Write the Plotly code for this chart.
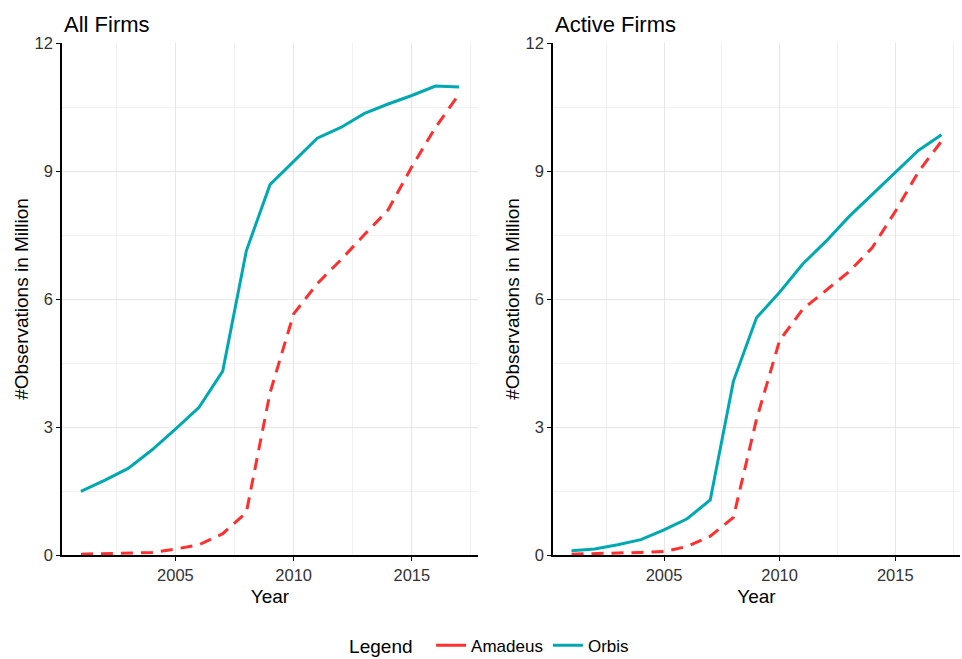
import plotly.graph_objects as go
from plotly.subplots import make_subplots

years = list(range(2001, 2018))
all_orbis = [1.49, 1.75, 2.03, 2.46, 2.95, 3.46, 4.31, 7.13, 8.68, 9.22, 9.77, 10.02, 10.35, 10.57, 10.77, 10.99, 10.97]
all_amadeus = [0.02, 0.03, 0.04, 0.06, 0.14, 0.24, 0.50, 1.00, 3.80, 5.65, 6.36, 6.92, 7.51, 8.09, 9.10, 10.02, 10.80]
act_orbis = [0.10, 0.14, 0.24, 0.36, 0.59, 0.85, 1.29, 4.07, 5.56, 6.16, 6.82, 7.35, 7.93, 8.45, 8.96, 9.48, 9.85]
act_amadeus = [0.02, 0.03, 0.04, 0.06, 0.08, 0.20, 0.44, 0.88, 3.18, 5.03, 5.76, 6.20, 6.64, 7.20, 8.05, 8.98, 9.70]
panel_titles = ["All Firms", "Active Firms"]

RED = "#FF2F2F"
TEAL = "#00A9B2"
FONT = "Liberation Sans, Arial, sans-serif"

fig = make_subplots(rows=1, cols=2, horizontal_spacing=0.08)

for col, (amad, orb) in enumerate([(all_amadeus, all_orbis), (act_amadeus, act_orbis)], start=1):
    fig.add_trace(go.Scatter(x=years, y=amad, mode="lines", name="Amadeus",
                             line=dict(color=RED, width=3, dash="12px,8px"),
                             legendgroup="a", showlegend=False), row=1, col=col)
    fig.add_trace(go.Scatter(x=years, y=orb, mode="lines", name="Orbis",
                             line=dict(color=TEAL, width=3),
                             legendgroup="o", showlegend=False), row=1, col=col)

# legend keys (solid, as in the reference legend)
fig.add_trace(go.Scatter(x=[None], y=[None], mode="lines", name="Amadeus",
                         line=dict(color=RED, width=3), legendgroup="a"), row=1, col=1)
fig.add_trace(go.Scatter(x=[None], y=[None], mode="lines", name="Orbis",
                         line=dict(color=TEAL, width=3), legendgroup="o"), row=1, col=1)

W, H = 962, 659
ml, mr, mt, mb = 62, 2, 43, 104
pw = W - ml - mr
d1 = [0, (478 - ml) / pw]
d2 = [(553 - ml) / pw, 1.0]

axis_common = dict(showline=True, linecolor="black", linewidth=1.5, ticks="outside",
                   ticklen=4, tickcolor="black", gridcolor="#E6E6E6", gridwidth=1.3,
                   zeroline=False, automargin=False,
                   tickfont=dict(size=16.5, color="#333333", family=FONT),
                   title_font=dict(size=19, color="black", family=FONT))

for i, dom in enumerate([d1, d2], start=1):
    fig.update_xaxes(domain=dom, range=[2000.2, 2017.8], tick0=2005, dtick=5,
                     minor=dict(dtick=2.5, tick0=2002.5, showgrid=True, gridcolor="#F0F0F0", gridwidth=1),
                     title_text="Year", title_standoff=7, **axis_common, row=1, col=i)
    fig.update_yaxes(range=[0, 12], tick0=0, dtick=3,
                     minor=dict(dtick=1.5, showgrid=True, gridcolor="#F0F0F0", gridwidth=1),
                     title_text="#Observations in Million", title_standoff=1, **axis_common, row=1, col=i)

for t, dom in zip(panel_titles, [d1, d2]):
    fig.add_annotation(text=t, xref="paper", yref="paper", x=dom[0], y=1.0, yshift=4,
                       xanchor="left", yanchor="bottom", showarrow=False,
                       font=dict(size=22, color="black", family=FONT))

fig.update_layout(
    width=W, height=H, margin=dict(l=ml, r=mr, t=mt, b=mb),
    paper_bgcolor="white", plot_bgcolor="white",
    font=dict(family=FONT, color="black"),
    legend=dict(orientation="h", xref="container", x=0.51, xanchor="center",
                yref="container", y=0.02, yanchor="middle",
                title=dict(text="Legend  ", font=dict(size=19)),
                font=dict(size=17)),
)

fig.write_html("out.html", config={"displayModeBar": False},
               post_script="document.body.style.margin='0';document.body.style.overflow='hidden';")
